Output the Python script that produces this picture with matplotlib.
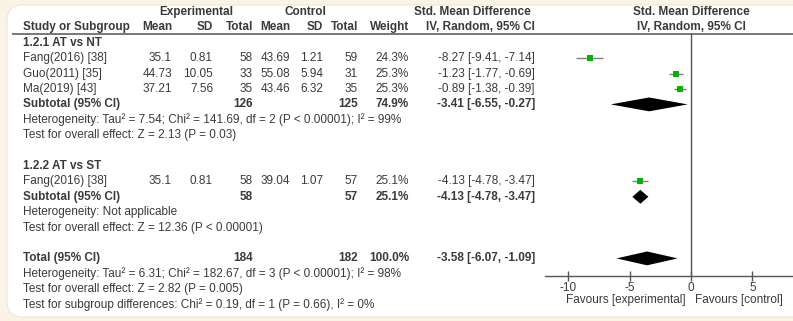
import matplotlib
matplotlib.use('Agg')
import matplotlib.pyplot as plt
from matplotlib.patches import FancyBboxPatch
from matplotlib.transforms import blended_transform_factory

plt.rcParams['font.family'] = ['Liberation Sans', 'DejaVu Sans']

# study level data
studies = ['Fang(2016) [38]', 'Guo(2011) [35]', 'Ma(2019) [43]', 'Fang(2016) [38]']
study_rows = [3, 4, 5, 11]
exp_mean = [35.1, 44.73, 37.21, 35.1]
exp_sd = [0.81, 10.05, 7.56, 0.81]
exp_n = [58, 33, 35, 58]
ctl_mean = [43.69, 55.08, 43.46, 39.04]
ctl_sd = [1.21, 5.94, 6.32, 1.07]
ctl_n = [59, 31, 35, 57]
weights = [24.3, 25.3, 25.3, 25.1]
smd = [-8.27, -1.23, -0.89, -4.13]
ci_lo = [-9.41, -1.77, -1.38, -4.78]
ci_hi = [-7.14, -0.69, -0.39, -3.47]

# subgroup / total pooled rows
group_names = ['1.2.1 AT vs NT', '1.2.2 AT vs ST']
group_rows = [2, 10]
pool_labels = ['Subtotal (95% CI)', 'Subtotal (95% CI)', 'Total (95% CI)']
pool_rows = [6, 12, 16]
pool_exp_n = [126, 58, 184]
pool_ctl_n = [125, 57, 182]
pool_w = [74.9, 25.1, 100.0]
pool_smd = [-3.41, -4.13, -3.58]
pool_lo = [-6.55, -4.78, -6.07]
pool_hi = [-0.27, -3.47, -1.09]

notes = [
    'Heterogeneity: Tau\u00b2 = 7.54; Chi\u00b2 = 141.69, df = 2 (P < 0.00001); I\u00b2 = 99%',
    'Test for overall effect: Z = 2.13 (P = 0.03)',
    'Heterogeneity: Not applicable',
    'Test for overall effect: Z = 12.36 (P < 0.00001)',
    'Heterogeneity: Tau\u00b2 = 6.31; Chi\u00b2 = 182.67, df = 3 (P < 0.00001); I\u00b2 = 98%',
    'Test for overall effect: Z = 2.82 (P = 0.005)',
    'Test for subgroup differences: Chi\u00b2 = 0.19, df = 1 (P = 0.66), I\u00b2 = 0%',
]
note_rows = [7, 8, 13, 14, 17, 18, 19]

xticks = [-10, -5, 0, 5]

W, H = 793, 321
row0, rowh = 12, 15.4          # pixel y of row 0, row spacing
def row_of(py):
    return (py - row0) / rowh

fig = plt.figure(figsize=(W / 100, H / 100), dpi=100)
fig.patch.set_facecolor('#fbf3e6')
box = FancyBboxPatch((7 / W, 4 / H), 1.2, 1 - 9 / H,
                     boxstyle='round,pad=0,rounding_size=0.02',
                     transform=fig.transFigure, facecolor='white',
                     edgecolor='#efe6d6', lw=0.8, mutation_aspect=W / H, zorder=-10)
fig.patches.append(box)

# text axes: x in pixels, y in rows
ax = fig.add_axes([0, 0, 1, 1])
ax.set_xlim(0, W)
ax.set_ylim(row_of(H), row_of(0))
ax.axis('off')

fs = 8.5
tc = '#3a3a3a'
def put(x, r, s, ha='right', bold=False, **kw):
    ax.text(x, r, s, ha=ha, va='center', fontsize=fs, color=tc,
            fontweight='bold' if bold else 'normal', **kw)

# headers
put(196, 0, 'Experimental', ha='center', bold=True)
put(305, 0, 'Control', ha='center', bold=True)
put(472, 0, 'Std. Mean Difference', ha='center', bold=True)
put(23, 1, 'Study or Subgroup', ha='left', bold=True)
for x, s in zip([172, 213, 253, 290, 323, 358, 409, 535],
                ['Mean', 'SD', 'Total', 'Mean', 'SD', 'Total', 'Weight', 'IV, Random, 95% CI']):
    put(x, 1, s, bold=True)
ax.plot([12, W], [row_of(33.5)] * 2, color='#777777', lw=1.4, solid_capstyle='butt')

for name, r in zip(group_names, group_rows):
    put(23, r, name, ha='left', bold=True)

for i, r in enumerate(study_rows):
    put(23, r, studies[i], ha='left')
    put(172, r, f'{exp_mean[i]:g}')
    put(213, r, f'{exp_sd[i]:g}')
    put(253, r, f'{exp_n[i]}')
    put(290, r, f'{ctl_mean[i]:g}')
    put(323, r, f'{ctl_sd[i]:g}')
    put(358, r, f'{ctl_n[i]}')
    put(409, r, f'{weights[i]:.1f}%')
    put(535, r, f'{smd[i]:.2f} [{ci_lo[i]:.2f}, {ci_hi[i]:.2f}]')

for i, r in enumerate(pool_rows):
    put(23, r, pool_labels[i], ha='left', bold=True)
    put(253, r, f'{pool_exp_n[i]}', bold=True)
    put(358, r, f'{pool_ctl_n[i]}', bold=True)
    put(409, r, f'{pool_w[i]:.1f}%', bold=True)
    put(535, r, f'{pool_smd[i]:.2f} [{pool_lo[i]:.2f}, {pool_hi[i]:.2f}]', bold=True)

for s, r in zip(notes, note_rows):
    put(23, r, s, ha='left')

# forest axes
x0px, px_per = 691, 12.27
top_px, bot_px = 34, 276
axf = fig.add_axes([545 / W, 1 - bot_px / H, (W - 545) / W, (bot_px - top_px) / H])
axf.set_xlim((545 - x0px) / px_per, (W - x0px) / px_per)
axf.set_ylim(row_of(bot_px), row_of(top_px))
axf.patch.set_alpha(0)
for sp in ['top', 'right', 'left']:
    axf.spines[sp].set_visible(False)
axf.spines['bottom'].set_color('#555555')
axf.spines['bottom'].set_linewidth(1.0)
axf.set_yticks([])
axf.set_xticks(xticks)
axf.set_xticklabels([f'{t}' for t in xticks])
axf.tick_params(axis='x', direction='inout', length=7, width=1.0, color='#555555',
                labelsize=fs, labelcolor=tc, pad=1)
axf.axvline(0, color='#555555', lw=1.0)

for i, r in enumerate(study_rows):
    axf.plot([ci_lo[i], ci_hi[i]], [r, r], color='#808080', lw=1.0, solid_capstyle='butt')
    axf.plot(smd[i], r, 's', color='#00b400', markersize=5, markeredgewidth=0)

dh = 0.45
for i, r in enumerate(pool_rows):
    axf.fill([pool_lo[i], pool_smd[i], pool_hi[i], pool_smd[i]],
             [r, r - dh, r, r + dh], color='black', lw=0)

tr = blended_transform_factory(axf.transData, ax.transData)
ax.text(0, 0, 'Std. Mean Difference', transform=tr, ha='center', va='center',
        fontsize=fs, color=tc, fontweight='bold')
ax.text(0, 1, 'IV, Random, 95% CI', transform=tr, ha='center', va='center',
        fontsize=fs, color=tc, fontweight='bold')
ax.text(-0.4, row_of(300), 'Favours [experimental]', transform=tr, ha='right',
        va='center', fontsize=fs, color=tc)
ax.text(0.35, row_of(300), 'Favours [control]', transform=tr, ha='left',
        va='center', fontsize=fs, color=tc)

fig.savefig('out.png', dpi=100, facecolor=fig.get_facecolor())
